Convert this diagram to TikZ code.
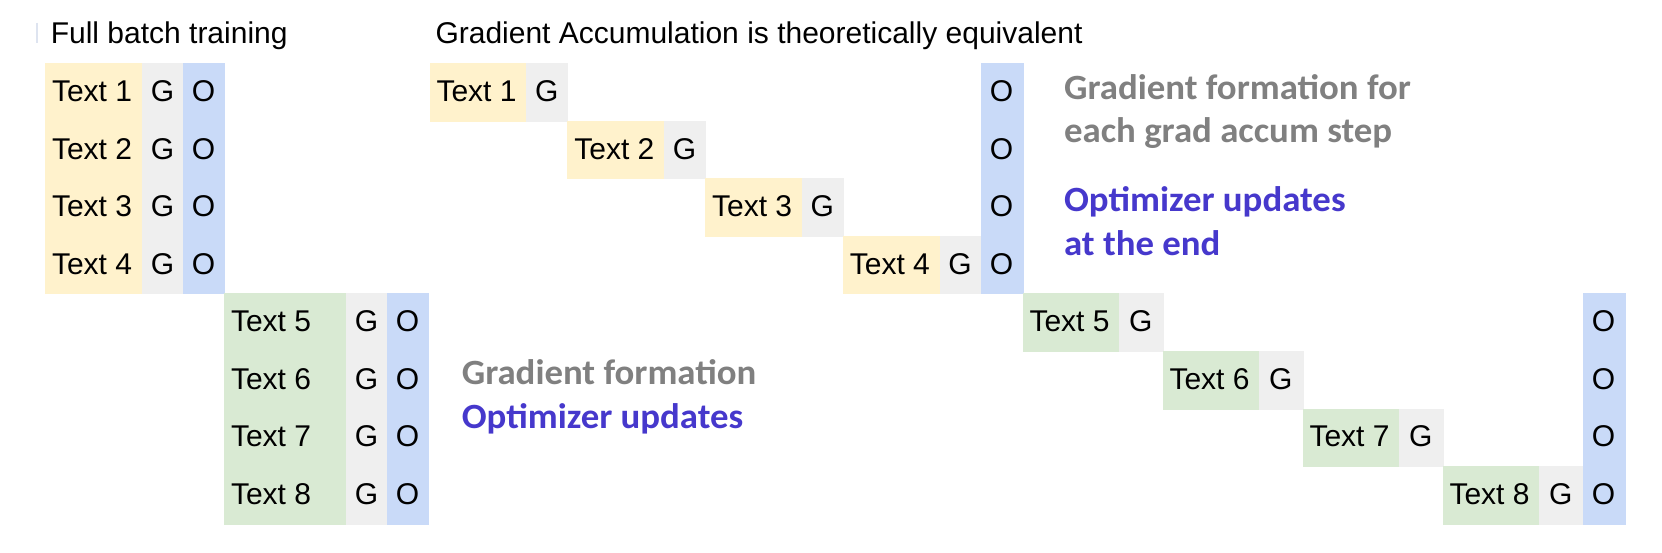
\documentclass[tikz,border=0pt]{standalone}
\usepackage{fontspec}
\setmainfont{Liberation Sans}
\newfontfamily\calibfont{Carlito}[FakeStretch=1.037]
\definecolor{cyel}{HTML}{FFF2CC}
\definecolor{cgry}{HTML}{EFEFEF}
\definecolor{cblu}{HTML}{C9DAF8}
\definecolor{cgrn}{HTML}{D9EAD3}
\definecolor{gtxt}{RGB}{128,128,128}
\definecolor{btxt}{RGB}{70,56,204}
\definecolor{markc}{RGB}{222,228,240}
\tikzset{
  cell/.style={draw=#1, fill=#1, line width=0.4pt, inner sep=0pt, anchor=north west, minimum height=57.5pt},
  lbl/.style={inner sep=0pt, font=\fontsize{30}{36}\selectfont, text=black},
  note/.style={inner sep=0pt, anchor=base west, font=\calibfont\bfseries\fontsize{35.5}{43}\selectfont},
}
\begin{document}
\begin{tikzpicture}[x=1pt,y=-1pt]
\useasboundingbox[fill=white] (0,0) rectangle (1662,553);
% faint mark left of the first title
\draw[line width=2pt, markc] (37,23) -- (37,43);
% titles
\node[lbl, anchor=base west] (title1) at (50.6,44) {Full batch training};
\node[lbl, anchor=base west] (title2) at (435.3,44) {Gradient Accumulation is theoretically equivalent};

% ---------- full batch training ----------
\foreach \i in {1,2,3,4}{
  \pgfmathsetmacro\yy{63.5+57.5*(\i-1)}
  \node[cell=cyel, minimum width=97pt] (fy\i) at (45,\yy) {};
  \node[cell=cgry, minimum width=41pt] (fg\i) at (142,\yy) {};
}
\node[cell=cblu, minimum width=41pt, minimum height=230pt] (fo1) at (183,63.5) {};
\foreach \i in {5,6,7,8}{
  \pgfmathsetmacro\yy{63.5+57.5*(\i-1)}
  \node[cell=cgrn, minimum width=122pt] (fy\i) at (224,\yy) {};
  \node[cell=cgry, minimum width=41pt] (fg\i) at (346,\yy) {};
}
\node[cell=cblu, minimum width=41pt, minimum height=230pt] (fo2) at (387,293.5) {};
\foreach \i in {1,2,3,4}{
  \pgfmathsetmacro\yy{63.5+57.5*(\i-1)+38.4}
  \node[lbl, anchor=base west] (ft\i) at (51.8,\yy) {Text \i};
  \node[lbl, anchor=base] (fG\i) at (162.5,\yy) {G};
  \node[lbl, anchor=base] (fO\i) at (203.5,\yy) {O};
}
\foreach \i in {5,6,7,8}{
  \pgfmathsetmacro\yy{63.5+57.5*(\i-1)+38.4}
  \node[lbl, anchor=base west] (ft\i) at (230.8,\yy) {Text \i};
  \node[lbl, anchor=base] (fG\i) at (366.5,\yy) {G};
  \node[lbl, anchor=base] (fO\i) at (407.5,\yy) {O};
}

% ---------- gradient accumulation ----------
\foreach \i in {1,2,3,4}{
  \pgfmathsetmacro\yy{63.5+57.5*(\i-1)}
  \pgfmathsetmacro\xx{429.5+137.8*(\i-1)}
  \node[cell=cyel, minimum width=96.7pt] (ay\i) at (\xx,\yy) {};
  \node[cell=cgry, minimum width=41.1pt] (ag\i) at (\xx+96.7,\yy) {};
}
\node[cell=cblu, minimum width=41.8pt, minimum height=230pt] (ao1) at (980.7,63.5) {};
\foreach \i in {5,6,7,8}{
  \pgfmathsetmacro\yy{63.5+57.5*(\i-1)}
  \pgfmathsetmacro\xx{1022.5+140*(\i-5)}
  \node[cell=cgrn, minimum width=96.5pt] (ay\i) at (\xx,\yy) {};
  \node[cell=cgry, minimum width=43.5pt] (ag\i) at (\xx+96.5,\yy) {};
}
\node[cell=cblu, minimum width=42pt, minimum height=230pt] (ao2) at (1582.5,293.5) {};
\foreach \i in {1,2,3,4}{
  \pgfmathsetmacro\yy{63.5+57.5*(\i-1)+38.4}
  \pgfmathsetmacro\xx{429.5+137.8*(\i-1)}
  \node[lbl, anchor=base west] (at\i) at (\xx+6.8,\yy) {Text \i};
  \node[lbl, anchor=base] (aG\i) at (\xx+96.7+20.55,\yy) {G};
  \node[lbl, anchor=base] (aO\i) at (1001.6,\yy) {O};
}
\foreach \i in {5,6,7,8}{
  \pgfmathsetmacro\yy{63.5+57.5*(\i-1)+38.4}
  \pgfmathsetmacro\xx{1022.5+140*(\i-5)}
  \node[lbl, anchor=base west] (at\i) at (\xx+6.8,\yy) {Text \i};
  \node[lbl, anchor=base] (aG\i) at (\xx+96.5+21.75,\yy) {G};
  \node[lbl, anchor=base] (aO\i) at (1603.5,\yy) {O};
}

% ---------- notes ----------
\node[note, text=gtxt] (n1a) at (461.6,384.2) {Gradient formation};
\node[note, text=btxt] (n1b) at (461.6,428) {Optimizer updates};
\node[note, text=gtxt] (n2a) at (1063.9,99.7) {Gradient formation for};
\node[note, text=gtxt] (n2b) at (1063.9,142.5) {each grad accum step};
\node[note, text=btxt] (n2c) at (1063.9,212) {Optimizer updates};
\node[note, text=btxt] (n2d) at (1063.9,255.5) {at the end};
\end{tikzpicture}
\end{document}
